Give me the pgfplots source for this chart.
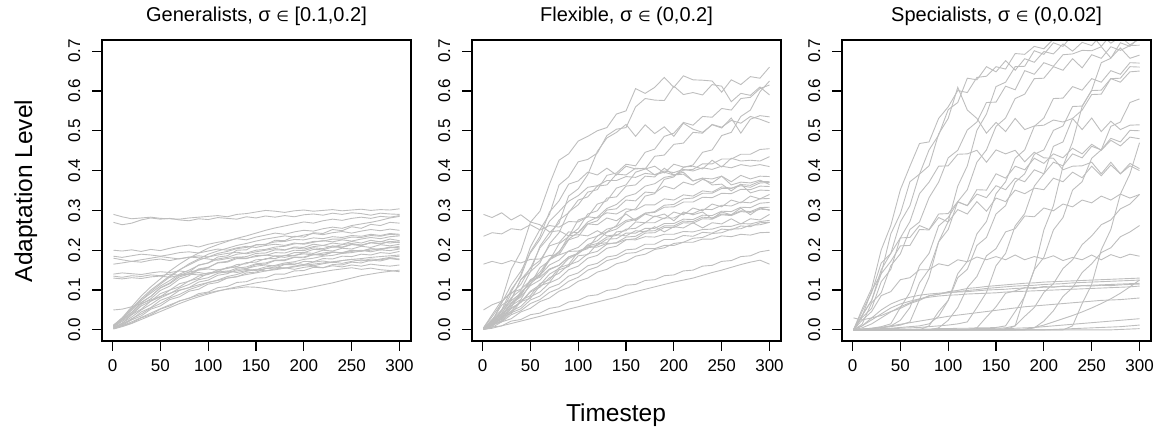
\documentclass[border=0pt]{standalone}
\usepackage{fontspec}
\setmainfont{Liberation Sans}
\newfontfamily\dejavu{DejaVu Sans}
\usepackage{pgfplots}
\usepackage{pgfplotstable}
\pgfplotsset{compat=1.18}
\definecolor{lgray}{HTML}{BEBEBE}

% one row per simulated run, columns = timestep
\pgfplotstableread{
id  1 10 20 30 40 50 60 70 80 90 100 110 120 130 140 150 160 170 180 190 200 210 220 230 240 250 260 270 280 290 300
g1  0.290 0.284 0.279 0.281 0.283 0.280 0.279 0.278 0.281 0.283 0.285 0.287 0.284 0.290 0.292 0.296 0.300 0.298 0.295 0.299 0.301 0.298 0.300 0.302 0.299 0.301 0.303 0.300 0.302 0.301 0.304
g2  0.270 0.264 0.268 0.276 0.281 0.278 0.280 0.276 0.274 0.279 0.277 0.282 0.280 0.278 0.284 0.281 0.286 0.283 0.287 0.284 0.289 0.291 0.288 0.293 0.290 0.294 0.292 0.288 0.293 0.291 0.290
g3  0.200 0.198 0.201 0.197 0.202 0.199 0.205 0.210 0.213 0.208 0.215 0.220 0.224 0.229 0.226 0.233 0.238 0.243 0.240 0.246 0.250 0.248 0.254 0.258 0.255 0.262 0.266 0.270 0.275 0.281 0.285
g4  0.185 0.182 0.186 0.190 0.188 0.185 0.189 0.194 0.196 0.193 0.198 0.203 0.200 0.206 0.210 0.207 0.212 0.215 0.212 0.218 0.215 0.220 0.224 0.221 0.226 0.223 0.228 0.232 0.229 0.234 0.236
g5  0.180 0.176 0.172 0.176 0.180 0.184 0.181 0.178 0.183 0.181 0.178 0.175 0.179 0.183 0.180 0.184 0.188 0.185 0.182 0.187 0.191 0.188 0.193 0.196 0.192 0.197 0.200 0.196 0.201 0.199 0.203
g6  0.165 0.168 0.172 0.170 0.175 0.178 0.174 0.179 0.182 0.186 0.183 0.188 0.192 0.195 0.191 0.196 0.200 0.204 0.201 0.206 0.203 0.209 0.212 0.208 0.214 0.217 0.213 0.219 0.222 0.218 0.221
g7  0.140 0.143 0.141 0.139 0.143 0.146 0.144 0.148 0.145 0.150 0.153 0.150 0.155 0.158 0.154 0.160 0.163 0.160 0.165 0.168 0.164 0.170 0.173 0.169 0.174 0.177 0.173 0.178 0.176 0.180 0.178
g8  0.135 0.132 0.136 0.134 0.138 0.136 0.140 0.137 0.141 0.144 0.140 0.145 0.148 0.144 0.149 0.152 0.148 0.153 0.156 0.152 0.157 0.160 0.156 0.161 0.158 0.163 0.160 0.165 0.162 0.160 0.163
g9  0.130 0.128 0.131 0.129 0.133 0.135 0.132 0.137 0.140 0.138 0.143 0.146 0.143 0.148 0.152 0.149 0.154 0.158 0.155 0.160 0.164 0.161 0.166 0.170 0.167 0.172 0.176 0.173 0.178 0.182 0.185
g10 0.050 0.052 0.058 0.066 0.075 0.084 0.092 0.100 0.106 0.113 0.119 0.124 0.130 0.134 0.139 0.143 0.148 0.151 0.155 0.158 0.162 0.165 0.168 0.171 0.174 0.177 0.179 0.182 0.184 0.186 0.188
g11 0.012 0.030 0.058 0.085 0.108 0.128 0.148 0.165 0.180 0.193 0.205 0.214 0.222 0.230 0.236 0.243 0.250 0.256 0.261 0.266 0.271 0.268 0.274 0.278 0.275 0.280 0.283 0.280 0.285 0.283 0.287
g12 0.010 0.026 0.050 0.074 0.096 0.115 0.133 0.150 0.166 0.178 0.190 0.198 0.205 0.212 0.217 0.223 0.228 0.232 0.236 0.233 0.238 0.242 0.239 0.244 0.247 0.243 0.248 0.252 0.249 0.253 0.250
g13 0.008 0.024 0.040 0.064 0.078 0.099 0.110 0.128 0.136 0.151 0.156 0.169 0.172 0.182 0.184 0.192 0.193 0.201 0.200 0.208 0.207 0.215 0.212 0.218 0.215 0.222 0.218 0.225 0.221 0.228 0.224
g14 0.006 0.016 0.038 0.052 0.072 0.083 0.100 0.108 0.123 0.129 0.142 0.146 0.157 0.159 0.169 0.170 0.179 0.179 0.187 0.186 0.194 0.192 0.200 0.198 0.205 0.203 0.210 0.207 0.214 0.211 0.215
g15 0.005 0.015 0.026 0.045 0.056 0.074 0.083 0.099 0.106 0.120 0.125 0.137 0.141 0.152 0.154 0.164 0.165 0.174 0.174 0.182 0.181 0.189 0.187 0.195 0.193 0.200 0.197 0.204 0.201 0.207 0.205
g16 0.004 0.011 0.025 0.035 0.052 0.060 0.076 0.083 0.097 0.102 0.115 0.119 0.130 0.133 0.143 0.145 0.154 0.155 0.164 0.164 0.172 0.171 0.179 0.178 0.185 0.184 0.190 0.188 0.194 0.192 0.197
g17 0.003 0.010 0.020 0.031 0.042 0.053 0.063 0.072 0.080 0.087 0.093 0.098 0.102 0.105 0.108 0.107 0.104 0.100 0.097 0.099 0.103 0.108 0.113 0.118 0.124 0.130 0.136 0.140 0.144 0.147 0.150
g18 0.002 0.008 0.016 0.026 0.036 0.046 0.056 0.066 0.075 0.083 0.090 0.097 0.103 0.108 0.113 0.118 0.122 0.126 0.130 0.134 0.138 0.142 0.146 0.150 0.153 0.156 0.152 0.155 0.151 0.149 0.146
g19 0.007 0.021 0.038 0.060 0.072 0.091 0.100 0.116 0.122 0.135 0.139 0.151 0.154 0.164 0.166 0.176 0.177 0.186 0.186 0.194 0.194 0.202 0.201 0.208 0.207 0.214 0.212 0.219 0.216 0.222 0.220
g20 0.009 0.026 0.044 0.069 0.084 0.105 0.116 0.133 0.140 0.153 0.157 0.168 0.170 0.179 0.179 0.187 0.187 0.194 0.193 0.200 0.199 0.206 0.204 0.211 0.208 0.215 0.212 0.219 0.216 0.222 0.219
g21 0.011 0.028 0.054 0.078 0.100 0.118 0.136 0.151 0.163 0.175 0.183 0.192 0.197 0.204 0.207 0.213 0.215 0.221 0.222 0.227 0.226 0.231 0.229 0.234 0.232 0.237 0.235 0.240 0.237 0.242 0.240
g22 0.003 0.010 0.017 0.030 0.038 0.052 0.060 0.073 0.079 0.091 0.095 0.106 0.109 0.119 0.121 0.130 0.131 0.140 0.140 0.148 0.149 0.157 0.156 0.164 0.163 0.170 0.168 0.175 0.173 0.179 0.176
g23 0.005 0.017 0.032 0.050 0.064 0.080 0.091 0.105 0.114 0.126 0.131 0.142 0.146 0.155 0.158 0.166 0.168 0.175 0.176 0.183 0.183 0.190 0.189 0.195 0.194 0.200 0.198 0.204 0.202 0.208 0.206
g24 0.010 0.030 0.050 0.074 0.092 0.110 0.124 0.140 0.150 0.162 0.168 0.178 0.182 0.190 0.193 0.200 0.202 0.208 0.210 0.216 0.217 0.222 0.223 0.228 0.228 0.233 0.232 0.237 0.235 0.240 0.238
g25 0.004 0.013 0.028 0.040 0.055 0.066 0.080 0.089 0.101 0.109 0.119 0.125 0.134 0.139 0.147 0.151 0.158 0.162 0.168 0.171 0.177 0.180 0.185 0.187 0.192 0.194 0.198 0.200 0.204 0.206 0.210
g26 0.008 0.025 0.044 0.068 0.084 0.106 0.118 0.137 0.145 0.163 0.168 0.183 0.186 0.200 0.201 0.214 0.214 0.225 0.224 0.235 0.233 0.244 0.242 0.252 0.249 0.259 0.255 0.265 0.262 0.270 0.268
}\rawGen

\pgfplotstableread{
id  1 10 20 30 40 50 60 70 80 90 100 110 120 130 140 150 160 170 180 190 200 210 220 230 240 250 260 270 280 290 300
f1  0.005 0.038 0.074 0.152 0.196 0.270 0.298 0.366 0.426 0.442 0.474 0.486 0.500 0.508 0.542 0.550 0.606 0.594 0.609 0.634 0.609 0.638 0.628 0.627 0.625 0.597 0.628 0.616 0.636 0.632 0.660
f2  0.004 0.019 0.070 0.096 0.138 0.208 0.252 0.290 0.364 0.384 0.422 0.428 0.444 0.488 0.504 0.508 0.560 0.581 0.577 0.576 0.612 0.591 0.596 0.590 0.616 0.612 0.573 0.594 0.589 0.610 0.590
f3  0.003 0.024 0.062 0.077 0.126 0.146 0.210 0.244 0.268 0.336 0.354 0.390 0.448 0.482 0.496 0.516 0.486 0.515 0.493 0.510 0.486 0.519 0.504 0.496 0.515 0.507 0.532 0.494 0.529 0.538 0.535
f4  0.002 0.010 0.034 0.046 0.074 0.086 0.116 0.126 0.156 0.164 0.196 0.204 0.236 0.246 0.262 0.296 0.304 0.336 0.342 0.378 0.384 0.408 0.414 0.446 0.452 0.488 0.496 0.536 0.552 0.598 0.625
f5  0.003 0.022 0.040 0.081 0.100 0.146 0.168 0.216 0.244 0.296 0.314 0.346 0.352 0.388 0.394 0.416 0.412 0.446 0.454 0.486 0.494 0.521 0.514 0.536 0.534 0.556 0.552 0.581 0.584 0.606 0.615
f6  0.002 0.012 0.040 0.056 0.096 0.114 0.156 0.174 0.216 0.234 0.276 0.284 0.316 0.324 0.356 0.364 0.396 0.404 0.436 0.439 0.466 0.469 0.496 0.494 0.516 0.509 0.526 0.519 0.536 0.529 0.520
f7  0.004 0.026 0.050 0.101 0.134 0.196 0.234 0.296 0.324 0.366 0.374 0.396 0.389 0.406 0.389 0.411 0.404 0.406 0.389 0.396 0.389 0.391 0.374 0.381 0.379 0.386 0.364 0.371 0.369 0.376 0.365
f8  0.003 0.014 0.050 0.076 0.126 0.154 0.206 0.234 0.276 0.294 0.326 0.334 0.361 0.364 0.391 0.389 0.406 0.404 0.411 0.394 0.416 0.409 0.411 0.404 0.426 0.409 0.431 0.424 0.426 0.424 0.435
f9  0.002 0.016 0.026 0.061 0.076 0.116 0.136 0.176 0.194 0.236 0.254 0.291 0.299 0.331 0.334 0.361 0.364 0.386 0.384 0.406 0.389 0.396 0.374 0.381 0.364 0.366 0.349 0.366 0.344 0.351 0.350
f10 0.003 0.019 0.031 0.066 0.086 0.126 0.139 0.176 0.189 0.226 0.234 0.266 0.274 0.301 0.304 0.326 0.324 0.346 0.344 0.361 0.354 0.371 0.364 0.378 0.369 0.386 0.372 0.388 0.379 0.386 0.385
f11 0.002 0.008 0.032 0.041 0.071 0.079 0.111 0.119 0.151 0.159 0.186 0.189 0.216 0.219 0.246 0.249 0.271 0.269 0.286 0.279 0.296 0.289 0.306 0.299 0.316 0.309 0.326 0.319 0.336 0.329 0.340
f12 0.004 0.024 0.046 0.091 0.114 0.156 0.174 0.211 0.219 0.246 0.244 0.266 0.264 0.281 0.274 0.291 0.274 0.291 0.284 0.291 0.274 0.296 0.289 0.296 0.279 0.296 0.289 0.306 0.289 0.306 0.300
f13 0.290 0.282 0.294 0.276 0.289 0.271 0.264 0.246 0.249 0.236 0.239 0.236 0.249 0.236 0.239 0.236 0.249 0.246 0.259 0.246 0.259 0.256 0.269 0.256 0.269 0.266 0.279 0.266 0.279 0.276 0.290
f14 0.235 0.244 0.241 0.254 0.251 0.264 0.251 0.262 0.258 0.272 0.271 0.284 0.281 0.294 0.291 0.304 0.301 0.314 0.314 0.329 0.326 0.339 0.336 0.349 0.346 0.359 0.356 0.362 0.358 0.369 0.370
f15 0.165 0.172 0.166 0.174 0.168 0.177 0.178 0.187 0.188 0.197 0.198 0.207 0.208 0.217 0.218 0.227 0.226 0.234 0.233 0.240 0.240 0.247 0.246 0.252 0.253 0.260 0.260 0.267 0.266 0.272 0.275
f16 0.002 0.012 0.022 0.043 0.053 0.075 0.085 0.106 0.115 0.135 0.143 0.161 0.167 0.183 0.187 0.201 0.203 0.215 0.215 0.227 0.227 0.237 0.235 0.245 0.243 0.253 0.251 0.261 0.259 0.269 0.270
f17 0.001 0.006 0.020 0.028 0.045 0.054 0.071 0.080 0.097 0.106 0.122 0.130 0.145 0.152 0.166 0.172 0.185 0.190 0.202 0.206 0.217 0.220 0.230 0.232 0.242 0.244 0.253 0.254 0.263 0.264 0.270
f18 0.003 0.017 0.029 0.055 0.069 0.095 0.107 0.131 0.142 0.163 0.172 0.191 0.197 0.215 0.219 0.233 0.235 0.248 0.249 0.261 0.261 0.273 0.272 0.283 0.281 0.291 0.289 0.299 0.297 0.307 0.308
f19 0.001 0.007 0.010 0.022 0.026 0.038 0.042 0.054 0.058 0.070 0.074 0.085 0.088 0.099 0.102 0.112 0.114 0.124 0.126 0.136 0.138 0.148 0.150 0.160 0.162 0.172 0.174 0.184 0.186 0.196 0.200
f20 0.001 0.004 0.010 0.016 0.022 0.028 0.034 0.040 0.046 0.052 0.058 0.064 0.070 0.076 0.082 0.089 0.096 0.102 0.108 0.114 0.120 0.125 0.130 0.137 0.144 0.150 0.157 0.164 0.170 0.175 0.165
f21 0.002 0.012 0.020 0.038 0.048 0.066 0.076 0.094 0.104 0.122 0.132 0.150 0.158 0.174 0.180 0.192 0.194 0.204 0.204 0.212 0.212 0.220 0.220 0.228 0.228 0.236 0.234 0.240 0.238 0.244 0.245
f22 0.004 0.023 0.042 0.073 0.092 0.121 0.137 0.163 0.175 0.198 0.207 0.228 0.235 0.253 0.259 0.275 0.279 0.293 0.295 0.308 0.309 0.321 0.321 0.333 0.332 0.343 0.342 0.353 0.352 0.361 0.360
f23 0.005 0.033 0.067 0.113 0.147 0.193 0.227 0.273 0.297 0.323 0.337 0.358 0.362 0.375 0.375 0.385 0.383 0.393 0.390 0.399 0.395 0.403 0.399 0.407 0.403 0.411 0.407 0.415 0.411 0.415 0.410
f24 0.003 0.019 0.035 0.065 0.083 0.111 0.125 0.151 0.162 0.183 0.192 0.211 0.217 0.233 0.237 0.253 0.255 0.269 0.269 0.281 0.281 0.293 0.292 0.303 0.302 0.313 0.311 0.321 0.319 0.329 0.330
f25 0.002 0.014 0.023 0.047 0.059 0.083 0.095 0.118 0.129 0.151 0.160 0.180 0.187 0.205 0.210 0.226 0.229 0.243 0.244 0.257 0.257 0.269 0.268 0.279 0.278 0.289 0.287 0.297 0.295 0.303 0.302
f26 0.050 0.063 0.072 0.093 0.102 0.123 0.132 0.153 0.162 0.183 0.192 0.208 0.212 0.228 0.229 0.243 0.243 0.255 0.255 0.267 0.267 0.278 0.277 0.288 0.287 0.298 0.297 0.308 0.307 0.318 0.320
f27 0.003 0.020 0.037 0.068 0.089 0.123 0.145 0.178 0.197 0.228 0.245 0.271 0.283 0.305 0.315 0.335 0.342 0.361 0.367 0.383 0.387 0.401 0.403 0.417 0.417 0.429 0.429 0.441 0.441 0.453 0.455
f28 0.002 0.016 0.027 0.053 0.069 0.097 0.113 0.140 0.154 0.179 0.191 0.214 0.224 0.245 0.253 0.271 0.277 0.293 0.297 0.313 0.315 0.329 0.331 0.343 0.343 0.355 0.355 0.365 0.363 0.373 0.372
}\rawFlex

\pgfplotstableread{
id  1 10 20 30 40 50 60 70 80 90 100 110 120 130 140 150 160 170 180 190 200 210 220 230 240 250 260 270 280 290 300
s1  0.000 0.052 0.104 0.201 0.262 0.352 0.411 0.468 0.472 0.531 0.560 0.601 0.596 0.634 0.637 0.661 0.655 0.694 0.692 0.712 0.706 0.730 0.733 0.742 0.738 0.748 0.744 0.752 0.738 0.755 0.745
s2  0.000 0.034 0.098 0.142 0.241 0.292 0.372 0.391 0.452 0.489 0.553 0.571 0.632 0.628 0.661 0.648 0.676 0.652 0.681 0.672 0.699 0.693 0.718 0.700 0.722 0.714 0.741 0.720 0.736 0.716 0.730
s3  0.000 0.036 0.074 0.151 0.192 0.271 0.312 0.391 0.412 0.492 0.531 0.609 0.552 0.531 0.494 0.521 0.498 0.531 0.503 0.512 0.514 0.527 0.522 0.531 0.503 0.532 0.498 0.524 0.503 0.514 0.515
s4  0.000 0.014 0.068 0.093 0.161 0.191 0.252 0.271 0.332 0.371 0.432 0.451 0.502 0.522 0.571 0.572 0.612 0.603 0.651 0.642 0.671 0.662 0.691 0.693 0.702 0.701 0.711 0.683 0.708 0.682 0.690
s5  0.000 0.036 0.074 0.141 0.172 0.211 0.212 0.252 0.251 0.282 0.271 0.302 0.291 0.322 0.298 0.331 0.322 0.351 0.342 0.356 0.352 0.381 0.372 0.396 0.382 0.411 0.387 0.414 0.392 0.418 0.405
s6  0.000 0.031 0.054 0.121 0.152 0.231 0.272 0.342 0.371 0.411 0.412 0.441 0.442 0.451 0.421 0.452 0.442 0.451 0.422 0.446 0.432 0.431 0.402 0.411 0.412 0.421 0.392 0.421 0.392 0.412 0.400
s7  0.000 0.024 0.046 0.086 0.096 0.126 0.131 0.151 0.151 0.166 0.161 0.176 0.171 0.183 0.176 0.184 0.176 0.188 0.176 0.184 0.178 0.186 0.174 0.182 0.176 0.188 0.176 0.189 0.181 0.190 0.185
s8  0.000 0.010 0.025 0.040 0.055 0.065 0.072 0.078 0.082 0.085 0.087 0.088 0.090 0.091 0.092 0.093 0.095 0.096 0.097 0.098 0.099 0.100 0.101 0.102 0.103 0.104 0.105 0.106 0.107 0.108 0.110
s9  0.000 0.005 0.015 0.030 0.045 0.058 0.068 0.077 0.085 0.090 0.093 0.096 0.099 0.101 0.104 0.106 0.108 0.110 0.111 0.112 0.114 0.115 0.116 0.118 0.119 0.120 0.121 0.122 0.123 0.124 0.125
s10 0.000 0.001 0.003 0.006 0.010 0.014 0.018 0.022 0.026 0.030 0.034 0.037 0.040 0.043 0.046 0.049 0.052 0.055 0.058 0.060 0.062 0.064 0.066 0.068 0.070 0.072 0.074 0.075 0.076 0.078 0.080
s11 0 0 0 0 0 0 0 0 0 0 0 0 0.001 0.001 0.002 0.002 0.003 0.004 0.005 0.006 0.008 0.010 0.012 0.014 0.016 0.018 0.020 0.022 0.024 0.026 0.028
s12 0 0 0 0 0 0 0 0 0 0 0 0 0 0 0 0 0 0 0 0 0 0.001 0.002 0.003 0.004 0.005 0.006 0.007 0.008 0.010 0.012
s13 0 0 0 0 0 0 0 0 0 0 0 0 0 0 0 0 0 0 0 0 0 0 0 0 0 0 0 0 0.001 0.002 0.003
s14 0 0.002 0.004 0.006 0.010 0.024 0.056 0.118 0.152 0.221 0.252 0.322 0.352 0.421 0.452 0.511 0.532 0.581 0.592 0.631 0.632 0.661 0.652 0.681 0.658 0.691 0.682 0.711 0.702 0.714 0.715
s15 0 0.001 0.002 0.003 0.004 0.006 0.008 0.010 0.015 0.034 0.074 0.141 0.172 0.241 0.272 0.342 0.372 0.431 0.452 0.511 0.532 0.581 0.582 0.611 0.602 0.631 0.622 0.651 0.642 0.671 0.670
s16 0 0 0.001 0.002 0.003 0.004 0.005 0.006 0.008 0.010 0.012 0.015 0.020 0.056 0.094 0.161 0.192 0.261 0.292 0.361 0.392 0.461 0.472 0.531 0.552 0.591 0.592 0.631 0.632 0.661 0.660
s17 0 0 0 0 0 0.001 0.001 0.002 0.002 0.003 0.003 0.004 0.004 0.005 0.005 0.006 0.010 0.046 0.084 0.151 0.182 0.251 0.282 0.351 0.372 0.431 0.452 0.511 0.522 0.571 0.580
s18 0 0 0 0 0 0 0 0 0 0.001 0.001 0.002 0.002 0.003 0.003 0.004 0.005 0.010 0.034 0.056 0.094 0.116 0.154 0.176 0.214 0.236 0.264 0.276 0.304 0.316 0.340
s19 0 0 0 0 0 0 0 0 0 0 0 0 0 0 0 0 0 0 0 0.005 0.022 0.048 0.084 0.106 0.144 0.166 0.194 0.206 0.234 0.246 0.262
s20 0 0 0 0 0 0 0 0 0 0 0 0 0 0 0 0 0 0 0 0 0 0 0 0.010 0.066 0.114 0.201 0.252 0.341 0.392 0.470
s21 0 0 0 0 0 0 0 0 0 0.005 0.024 0.056 0.106 0.134 0.186 0.204 0.246 0.254 0.286 0.284 0.306 0.299 0.316 0.309 0.326 0.319 0.336 0.326 0.341 0.331 0.340
s22 0 0.002 0.004 0.008 0.015 0.056 0.094 0.161 0.192 0.261 0.282 0.321 0.312 0.352 0.351 0.392 0.381 0.411 0.402 0.431 0.418 0.442 0.432 0.456 0.442 0.466 0.451 0.476 0.462 0.484 0.480
s23 0 0.001 0.003 0.005 0.008 0.012 0.020 0.076 0.132 0.221 0.272 0.361 0.412 0.501 0.542 0.611 0.622 0.661 0.662 0.701 0.692 0.721 0.712 0.741 0.732 0.741 0.712 0.741 0.732 0.745 0.730
s24 0 0.010 0.030 0.050 0.065 0.075 0.082 0.087 0.090 0.092 0.094 0.095 0.096 0.098 0.100 0.101 0.102 0.104 0.105 0.106 0.107 0.108 0.109 0.110 0.111 0.112 0.113 0.114 0.115 0.116 0.117
s25 0 0 0 0 0 0 0 0 0 0 0 0 0 0.005 0.032 0.058 0.092 0.098 0.106 0.104 0.109 0.107 0.110 0.108 0.111 0.110 0.112 0.111 0.113 0.114 0.115
s26 0 0 0 0 0 0 0 0 0 0 0 0 0 0 0 0 0 0.010 0.086 0.152 0.251 0.312 0.411 0.472 0.561 0.602 0.671 0.682 0.721 0.712 0.735
s27 0.000 0.046 0.094 0.168 0.192 0.231 0.232 0.262 0.252 0.291 0.292 0.322 0.312 0.341 0.332 0.362 0.352 0.381 0.372 0.402 0.392 0.421 0.412 0.442 0.432 0.461 0.452 0.481 0.472 0.501 0.500
s28 0 0 0 0 0 0 0 0 0.010 0.046 0.074 0.131 0.152 0.212 0.232 0.291 0.312 0.371 0.392 0.441 0.452 0.501 0.512 0.561 0.562 0.601 0.602 0.631 0.622 0.648 0.650
s29 0 0 0 0 0 0 0 0 0 0 0 0 0 0 0 0 0 0 0.002 0.006 0.012 0.020 0.028 0.036 0.045 0.055 0.066 0.078 0.092 0.108 0.125
s30 0.030 0.025 0.030 0.036 0.046 0.054 0.066 0.074 0.086 0.089 0.096 0.099 0.104 0.106 0.109 0.111 0.113 0.115 0.117 0.118 0.120 0.121 0.122 0.123 0.124 0.125 0.126 0.127 0.128 0.129 0.130
}\rawSpec

\pgfplotstabletranspose[colnames from=id, input colnames to=t]{\tabGen}{\rawGen}
\pgfplotstabletranspose[colnames from=id, input colnames to=t]{\tabFlex}{\rawFlex}
\pgfplotstabletranspose[colnames from=id, input colnames to=t]{\tabSpec}{\rawSpec}

\pgfplotsset{
  panel/.style={
    scale only axis, width=309pt, height=301pt, anchor=south west,
    xmin=-11, xmax=312, ymin=-0.028, ymax=0.728,
    xtick={0,50,100,150,200,250,300},
    ytick={0,0.1,0.2,0.3,0.4,0.5,0.6,0.7},
    tick align=outside, xtick pos=bottom, ytick pos=left,
    major tick length=10pt,
    axis line style={black, line width=1.1pt},
    every tick/.style={black, line width=1.1pt},
    axis on top,
    ticklabel style={font=\fontsize{17}{20}\selectfont, inner sep=0pt},
    /pgf/number format/assume math mode=true,
    yticklabel style={/pgf/number format/fixed, /pgf/number format/fixed zerofill,
      /pgf/number format/precision=1, xshift=-12pt, rotate=90, anchor=base},
    xticklabel style={anchor=north, yshift=-8pt},
    title style={font=\fontsize{20}{23}\selectfont, at={(0.5,1)}, anchor=base, yshift=12pt},
  },
  run/.style={lgray, line width=0.9pt, no markers},
}

\begin{document}
\begin{tikzpicture}
\path (0,0) rectangle (1159pt,436pt);

\begin{axis}[panel, at={(102pt,95pt)},
  title={Generalists, σ {\dejavu\fontsize{14.5}{16}\selectfont ∈} [0.1,0.2]}]
  \pgfplotsinvokeforeach{1,...,26}{\addplot[run] table[x=t, y=g#1]{\tabGen};}
\end{axis}

\begin{axis}[panel, at={(472pt,95pt)},
  title={Flexible, σ {\dejavu\fontsize{14.5}{16}\selectfont ∈} (0,0.2]}]
  \pgfplotsinvokeforeach{1,...,28}{\addplot[run] table[x=t, y=f#1]{\tabFlex};}
\end{axis}

\begin{axis}[panel, at={(842pt,95pt)},
  title={Specialists, σ {\dejavu\fontsize{14.5}{16}\selectfont ∈} (0,0.02]}]
  \pgfplotsinvokeforeach{1,...,30}{\addplot[run] table[x=t, y=s#1]{\tabSpec};}
\end{axis}

\node[rotate=90, anchor=base, inner sep=0pt, font=\fontsize{24.5}{28}\selectfont]
  at (32pt,245pt) {Adaptation Level};
\node[anchor=base, inner sep=0pt, font=\fontsize{24.5}{28}\selectfont]
  at (616pt,14pt) {Timestep};
\end{tikzpicture}
\end{document}
